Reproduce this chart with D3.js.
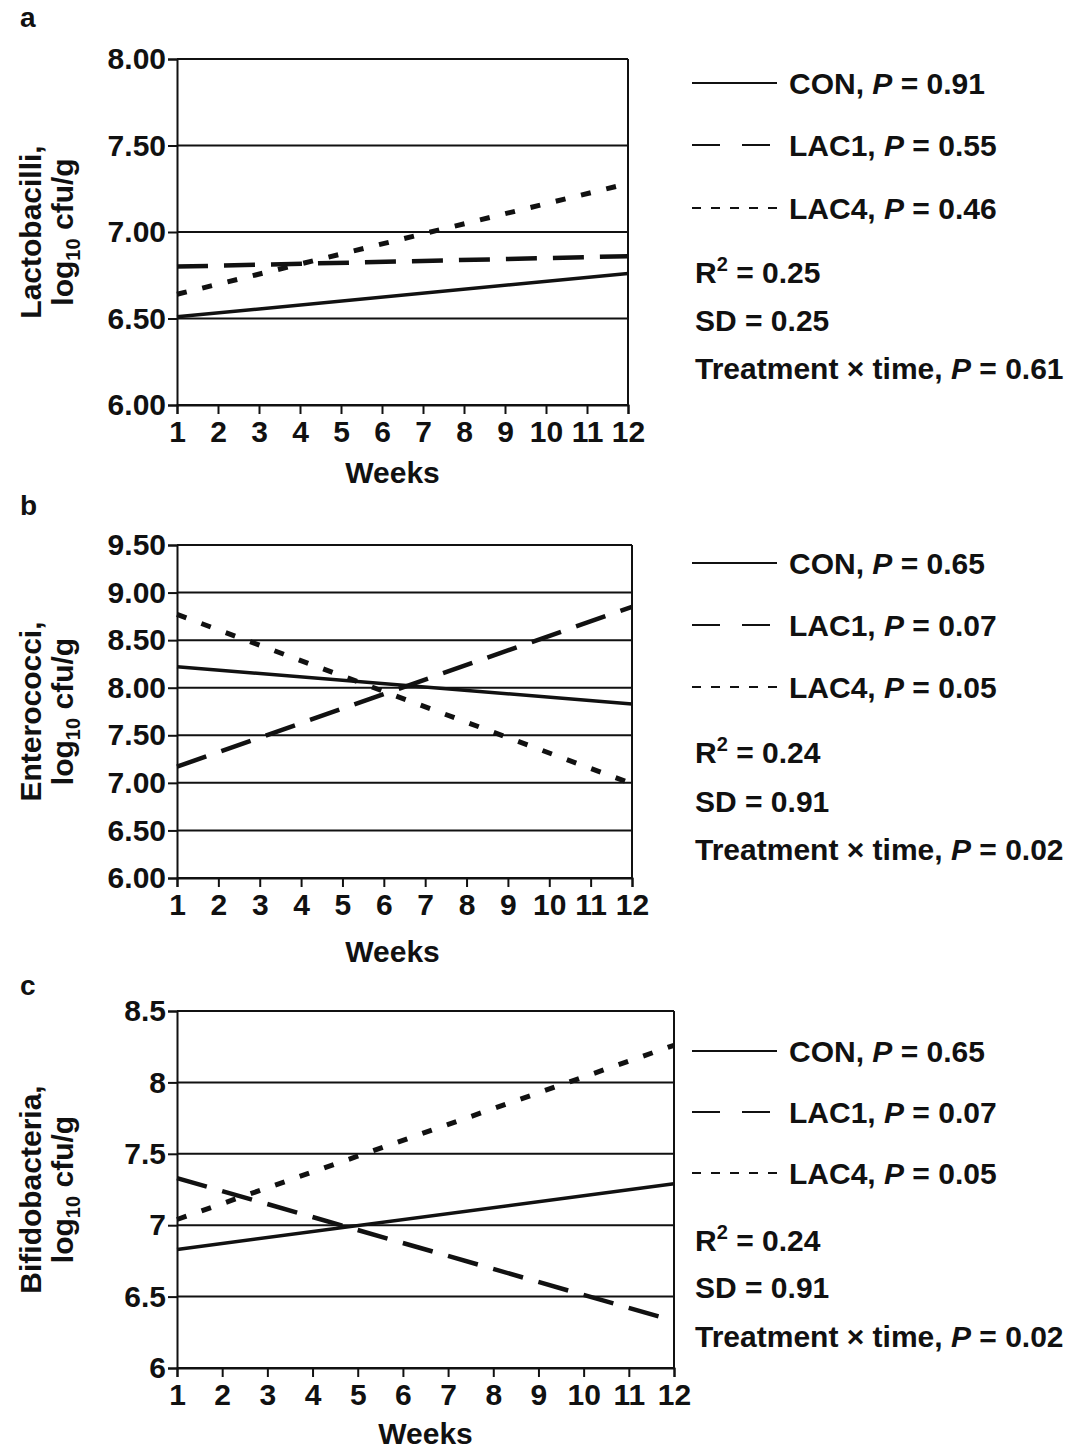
<!DOCTYPE html>
<html>
<head>
<meta charset="utf-8">
<script src="https://cdn.jsdelivr.net/npm/d3@7"></script>
<style>
  body { margin: 0; background: #fff; }
  text { font-family: "Liberation Sans", Arial, Helvetica, sans-serif; font-weight: bold; fill: #111; }
</style>
</head>
<body>
<div id="chart"></div>
<script>
// regression lines, value at week 1 and week 12
const weeks = [1, 12];
const weekTicks = [1, 2, 3, 4, 5, 6, 7, 8, 9, 10, 11, 12];
const groups = ["CON", "LAC1", "LAC4"];

const lactoCON = [6.51, 6.76];
const lactoLAC1 = [6.80, 6.86];
const lactoLAC4 = [6.64, 7.28];
const lactoTicks = [6, 6.5, 7, 7.5, 8];
const lactoP = ["0.91", "0.55", "0.46"];
const lactoStats = ["0.25", "0.25", "0.61"]; // R2, SD, treatment x time

const enteroCON = [8.22, 7.83];
const enteroLAC1 = [7.17, 8.85];
const enteroLAC4 = [8.77, 6.99];
const enteroTicks = [6, 6.5, 7, 7.5, 8, 8.5, 9, 9.5];
const enteroP = ["0.65", "0.07", "0.05"];
const enteroStats = ["0.24", "0.91", "0.02"];

const bifidoCON = [6.83, 7.29];
const bifidoLAC1 = [7.33, 6.33];
const bifidoLAC4 = [7.04, 8.26];
const bifidoTicks = [6, 6.5, 7, 7.5, 8, 8.5];
const bifidoP = ["0.65", "0.07", "0.05"];
const bifidoStats = ["0.24", "0.91", "0.02"];

var width = 1073, height = 1450;

var svg = d3.select("#chart").append("svg")
  .attr("width", width)
  .attr("height", height);

var lineStyle = {
  CON: { w: 3.5, dash: null, legendDash: null },
  LAC1: { w: 4.5, dash: "31,16", legendDash: "28,22" },
  LAC4: { w: 5, dash: "10,16", legendDash: "9,10" }
};

function drawPanel(p) {
  var x = d3.scaleLinear().domain([1, 12]).range([p.left, p.right]);
  var y = d3.scaleLinear().domain([p.ticks[0], p.ticks[p.ticks.length - 1]]).range([p.bottom, p.top]);
  var g = svg.append("g");

  // panel letter
  g.append("text").attr("x", 20).attr("y", p.letterY)
    .attr("font-size", 28).text(p.letter);

  // horizontal grid lines
  g.selectAll(".grid").data(p.ticks).enter().append("line")
    .attr("x1", p.left).attr("x2", p.right)
    .attr("y1", d => y(d)).attr("y2", d => y(d))
    .attr("stroke", "#111").attr("stroke-width", 2);

  // right border
  g.append("line").attr("x1", p.right).attr("x2", p.right)
    .attr("y1", p.top).attr("y2", p.bottom)
    .attr("stroke", "#111").attr("stroke-width", 2);

  var yAxis = g.append("g")
    .attr("transform", "translate(" + p.left + ",0)")
    .call(d3.axisLeft(y).tickValues(p.ticks).tickFormat(p.fmt).tickSize(9).tickPadding(2));
  var xAxis = g.append("g")
    .attr("transform", "translate(0," + p.bottom + ")")
    .call(d3.axisBottom(x).tickValues(weekTicks).tickSize(9).tickPadding(4));
  [yAxis, xAxis].forEach(function (a) {
    a.select(".domain").attr("stroke", "#111").attr("stroke-width", 2);
    a.selectAll(".tick line").attr("stroke", "#111").attr("stroke-width", 2);
    a.selectAll("text").attr("font-size", 30).attr("fill", "#111")
      .style("font-family", '"Liberation Sans", Arial, sans-serif').style("font-weight", "bold");
  });
  xAxis.selectAll("text").attr("dy", "0.8em");

  g.append("text").attr("x", x(6.5) + p.weeksShift).attr("y", p.weeksY)
    .attr("text-anchor", "middle").attr("font-size", 30).text("Weeks");

  // y axis title, two lines
  var cy = (p.top + p.bottom) / 2;
  g.append("text").attr("transform", "translate(41," + cy + ") rotate(-90)")
    .attr("text-anchor", "middle").attr("font-size", 30).text(p.title);
  var t2 = g.append("text").attr("transform", "translate(73," + cy + ") rotate(-90)")
    .attr("text-anchor", "middle").attr("font-size", 30);
  t2.append("tspan").text("log");
  t2.append("tspan").attr("font-size", 20).attr("dy", 7).text("10");
  t2.append("tspan").attr("dy", -7).text(" cfu/g");

  // regression lines
  var line = d3.line().x((d, i) => x(weeks[i])).y(d => y(d));
  p.series.forEach(function (vals, i) {
    var s = lineStyle[groups[i]];
    g.append("path").datum(vals)
      .attr("d", line)
      .attr("fill", "none")
      .attr("stroke", "#111")
      .attr("stroke-width", s.w)
      .attr("stroke-dasharray", s.dash);
  });

  // legend
  groups.forEach(function (name, i) {
    var ly = p.legendY[i];
    var s = lineStyle[name];
    g.append("line").attr("x1", 692).attr("x2", 777).attr("y1", ly).attr("y2", ly)
      .attr("stroke", "#111").attr("stroke-width", 2)
      .attr("stroke-dasharray", s.legendDash);
    var t = g.append("text").attr("x", 789).attr("y", ly + 11).attr("font-size", 30);
    t.append("tspan").text(name + ", ");
    t.append("tspan").attr("font-style", "italic").text("P");
    t.append("tspan").text(" = " + p.pvals[i]);
  });

  var r = g.append("text").attr("x", 695).attr("y", p.statY[0] + 11).attr("font-size", 30);
  r.append("tspan").text("R");
  r.append("tspan").attr("font-size", 20).attr("dy", -12).text("2");
  r.append("tspan").attr("dy", 12).text(" = " + p.stats[0]);

  g.append("text").attr("x", 695).attr("y", p.statY[1] + 11).attr("font-size", 30)
    .text("SD = " + p.stats[1]);

  var tt = g.append("text").attr("x", 695).attr("y", p.statY[2] + 11).attr("font-size", 30);
  tt.append("tspan").text("Treatment \u00d7 time, ");
  tt.append("tspan").attr("font-style", "italic").text("P");
  tt.append("tspan").text(" = " + p.stats[2]);
}

drawPanel({
  letter: "a", letterY: 27, title: "Lactobacilli,",
  left: 177, right: 628, top: 59, bottom: 405,
  ticks: lactoTicks, fmt: d3.format(".2f"),
  weeksY: 483, weeksShift: -10,
  series: [lactoCON, lactoLAC1, lactoLAC4],
  pvals: lactoP, stats: lactoStats,
  legendY: [83, 145, 208], statY: [272, 320, 368]
});

drawPanel({
  letter: "b", letterY: 515, title: "Enterococci,",
  left: 177, right: 632, top: 545, bottom: 878,
  ticks: enteroTicks, fmt: d3.format(".2f"),
  weeksY: 962, weeksShift: -12,
  series: [enteroCON, enteroLAC1, enteroLAC4],
  pvals: enteroP, stats: enteroStats,
  legendY: [563, 625, 687], statY: [752, 801, 849]
});

drawPanel({
  letter: "c", letterY: 995, title: "Bifidobacteria,",
  left: 177, right: 674, top: 1011, bottom: 1368,
  ticks: bifidoTicks, fmt: d => String(d),
  weeksY: 1444, weeksShift: 0,
  series: [bifidoCON, bifidoLAC1, bifidoLAC4],
  pvals: bifidoP, stats: bifidoStats,
  legendY: [1051, 1112, 1173], statY: [1240, 1287, 1336]
});
</script>
</body>
</html>
